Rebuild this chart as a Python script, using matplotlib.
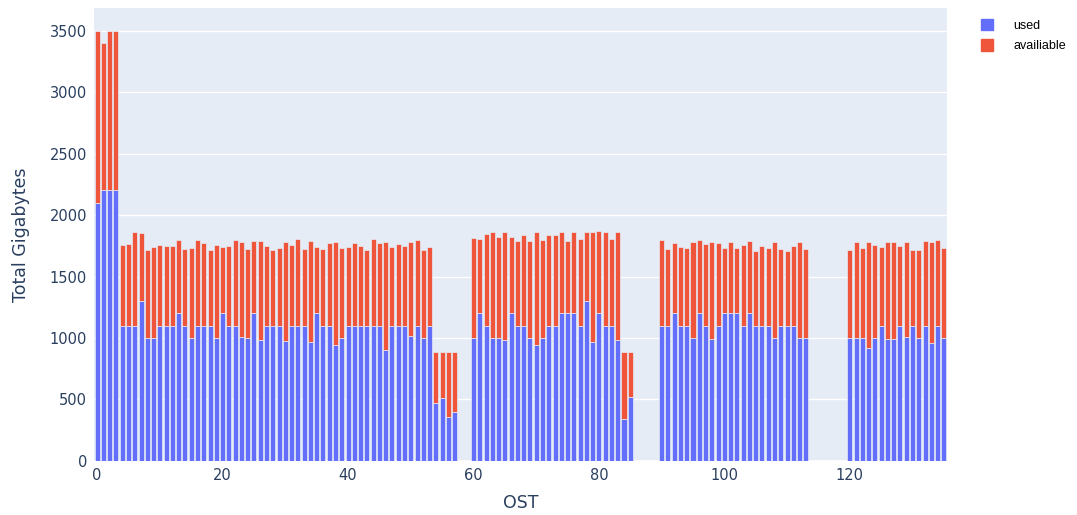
import numpy as np
import matplotlib.pyplot as plt
from matplotlib.patches import Patch

# OST index (gaps at 58-59, 86-89, 114-119 have no data)
ost = np.r_[0:58, 60:86, 90:114, 120:136]

used = [2100, 2200, 2200, 2200, 1100, 1100, 1100, 1300, 1000, 1000,
        1100, 1100, 1100, 1200, 1100, 1000, 1100, 1100, 1100, 1000,
        1200, 1100, 1100, 1005, 1000, 1200, 983, 1100, 1100, 1100,
        972, 1100, 1100, 1100, 966, 1200, 1100, 1100, 942, 1000,
        1100, 1100, 1100, 1100, 1100, 1100, 900, 1100, 1100, 1100,
        1020, 1100, 1000, 1100, 468, 514, 355, 400,
        1000, 1200, 1100, 1000, 1000, 985, 1200, 1100, 1100, 1000,
        945, 1000, 1100, 1100, 1200, 1200, 1200, 1100, 1300, 969,
        1200, 1100, 1100, 980, 341, 517,
        1100, 1100, 1200, 1100, 1100, 1000, 1200, 1100, 988, 1100,
        1200, 1200, 1200, 1100, 1200, 1100, 1100, 1100, 1000, 1100,
        1100, 1100, 1000, 1000,
        1000, 1004, 1000, 915, 1000, 1100, 988, 988, 1100, 1009,
        1100, 1000, 1100, 963, 1100, 1000]

availiable = [1400, 1200, 1300, 1300, 660, 665, 765, 557, 716, 743,
              657, 651, 646, 597, 622, 730, 697, 676, 614, 754,
              543, 649, 695, 779, 724, 587, 804, 649, 614, 630,
              812, 654, 706, 622, 821, 538, 624, 670, 841, 729,
              637, 670, 651, 619, 705, 675, 883, 643, 662, 651,
              763, 697, 719, 643, 417, 371, 530, 485,
              811, 608, 746, 859, 824, 874, 619, 689, 740, 789,
              914, 794, 740, 740, 659, 589, 659, 708, 565, 890,
              670, 759, 708, 879, 544, 368,
              700, 624, 575, 643, 635, 783, 600, 665, 795, 670,
              535, 578, 532, 654, 586, 610, 651, 629, 783, 621,
              608, 648, 781, 727,
              719, 779, 732, 868, 759, 637, 795, 795, 648, 774,
              616, 716, 686, 820, 700, 735]

c_used, c_avail = '#636EFA', '#EF553B'
txt = '#2a3f5f'

fig = plt.figure(figsize=(10.77, 5.15), dpi=100)
ax = fig.add_axes([0.0873, 0.1049, 0.792, 0.8796])
ax.set_facecolor('#E5ECF6')

ax.bar(ost, used, width=0.8, color=c_used, edgecolor='#E5ECF6', linewidth=0.5, zorder=3)
ax.bar(ost, availiable, bottom=used, width=0.8, color=c_avail, edgecolor='#E5ECF6',
       linewidth=0.5, zorder=3)

ax.set_xlim(-0.5, 135.5)
ax.set_ylim(0, 3684)
ax.set_yticks(np.arange(0, 3501, 500))
ax.set_xticks(np.arange(0, 121, 20))
ax.grid(axis='y', color='white', linewidth=1, zorder=0)
ax.axhline(0, color='white', linewidth=2, zorder=1)
for s in ax.spines.values():
    s.set_visible(False)
ax.tick_params(length=0, labelsize=10.5, colors=txt, pad=5)
ax.set_xlabel('OST', fontsize=12.5, color=txt, labelpad=8)
ax.set_ylabel('Total Gigabytes', fontsize=12.5, color=txt, labelpad=14)

handles = [Patch(color=c_used, label='used'), Patch(color=c_avail, label='availiable')]
fig.legend(handles=handles, loc='upper left', bbox_to_anchor=(0.9, 0.985), frameon=False,
           handlelength=1.0, handleheight=1.0, handletextpad=1.6, labelspacing=0.6,
           prop={'family': 'Liberation Sans', 'size': 9})

fig.savefig('out.png', dpi=100)
